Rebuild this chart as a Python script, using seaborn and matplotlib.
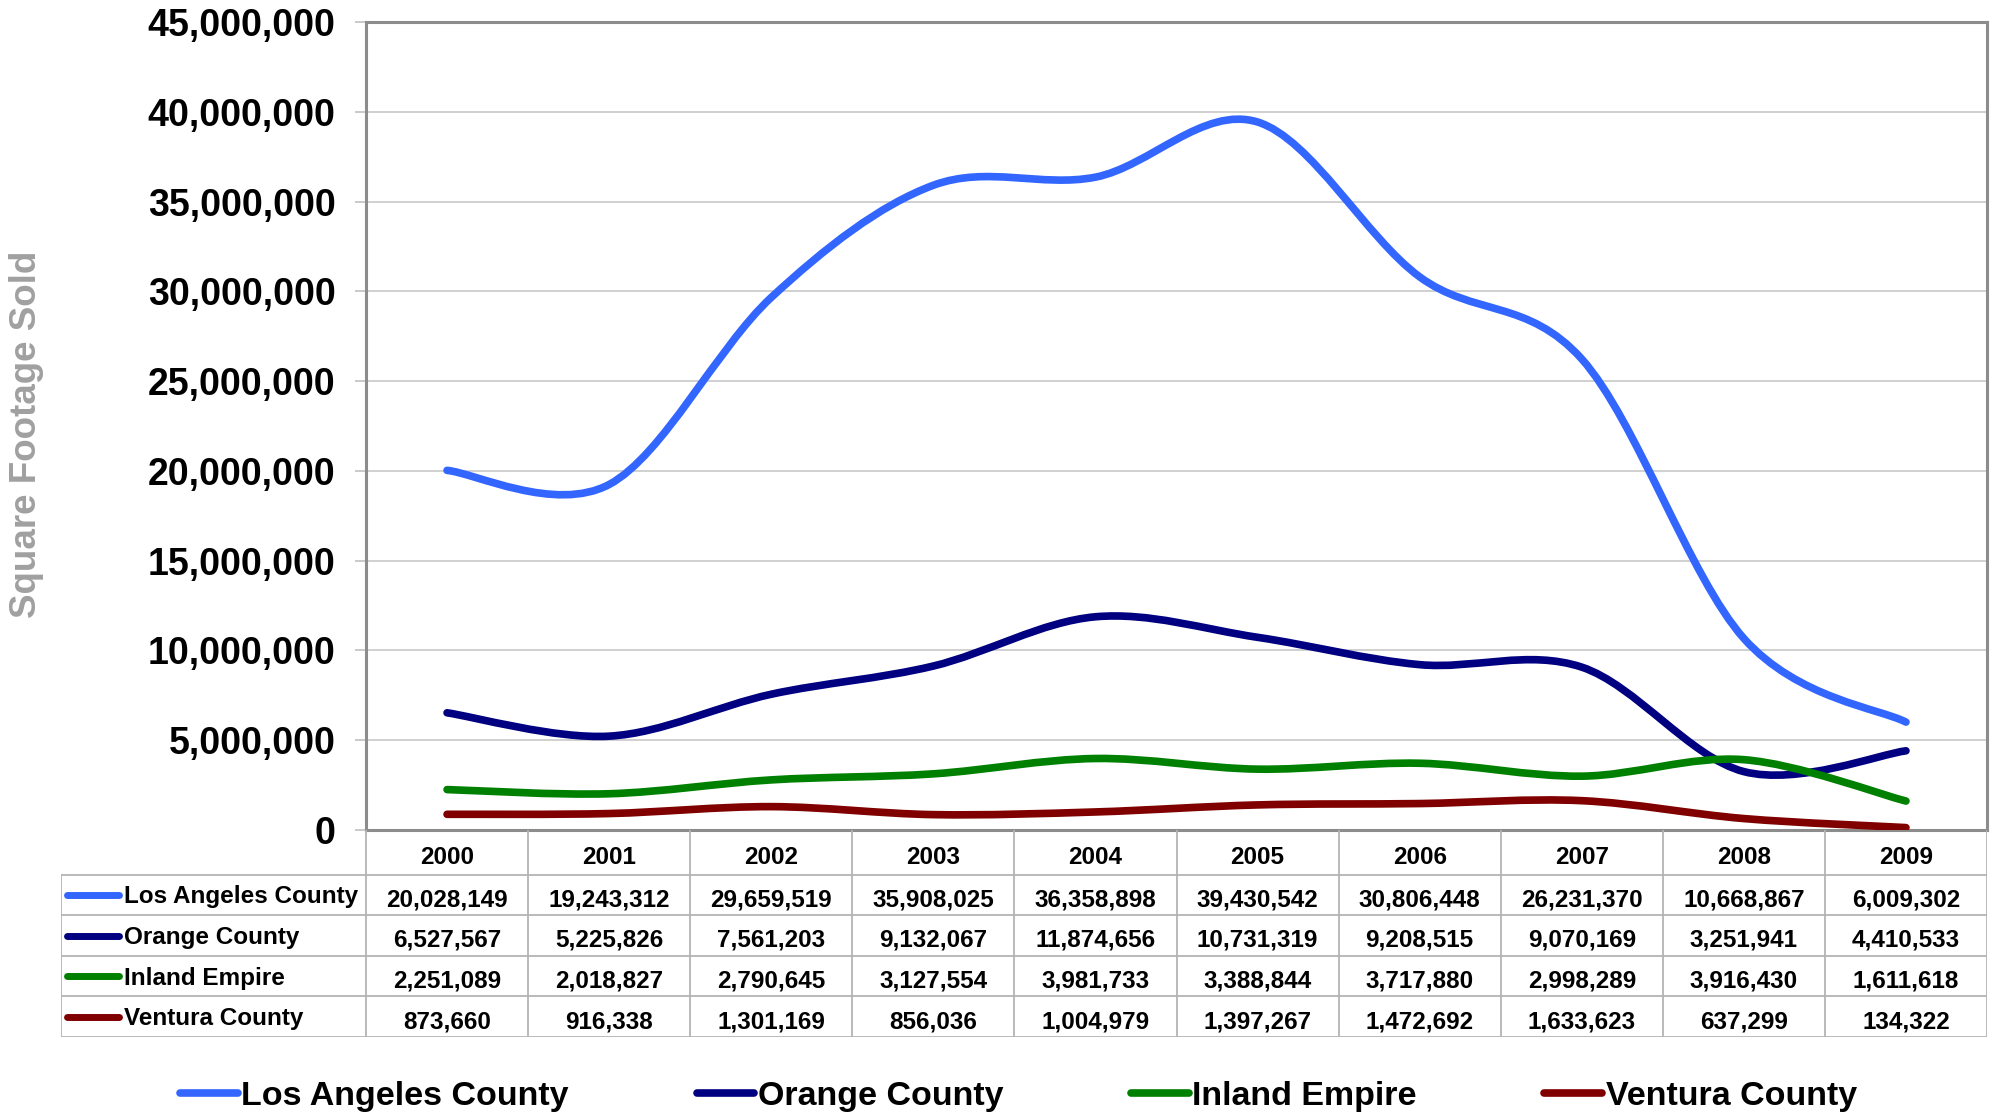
import numpy as np
import pandas as pd
import seaborn as sns
import matplotlib.pyplot as plt
from matplotlib.path import Path
from matplotlib.patches import PathPatch
from matplotlib.lines import Line2D
from matplotlib.ticker import FuncFormatter, MultipleLocator

sns.set_style("white")
plt.rcParams['font.family'] = ['Liberation Sans', 'DejaVu Sans']
plt.rcParams['font.weight'] = 'bold'
plt.rcParams['text.color'] = 'black'
plt.rcParams['ytick.labelcolor'] = 'black'

years = ['2000', '2001', '2002', '2003', '2004', '2005', '2006', '2007', '2008', '2009']
regions = ['Los Angeles County', 'Orange County', 'Inland Empire', 'Ventura County']
los_angeles = [20028149, 19243312, 29659519, 35908025, 36358898, 39430542, 30806448, 26231370, 10668867, 6009302]
orange = [6527567, 5225826, 7561203, 9132067, 11874656, 10731319, 9208515, 9070169, 3251941, 4410533]
inland = [2251089, 2018827, 2790645, 3127554, 3981733, 3388844, 3717880, 2998289, 3916430, 1611618]
ventura = [873660, 916338, 1301169, 856036, 1004979, 1397267, 1472692, 1633623, 637299, 134322]
colors = ['#3366FF', '#000080', '#008000', '#800000']

df = pd.DataFrame({'Year': years, 'Los Angeles County': los_angeles, 'Orange County': orange,
                   'Inland Empire': inland, 'Ventura County': ventura})


def smooth_path(xs, ys):
    # Excel style smoothed line: cubic bezier through each point (Catmull-Rom control points)
    pts = np.column_stack([xs, ys]).astype(float)
    n = len(pts)
    verts = [pts[0]]
    codes = [Path.MOVETO]
    for i in range(n - 1):
        p0 = pts[max(i - 1, 0)]
        p1 = pts[i]
        p2 = pts[i + 1]
        p3 = pts[min(i + 2, n - 1)]
        c1 = p1 + (p2 - p0) / 6.0
        c2 = p2 - (p3 - p1) / 6.0
        verts += [c1, c2, p2]
        codes += [Path.CURVE4] * 3
    return Path(verts, codes)


W, H = 1995, 1114
fig = plt.figure(figsize=(W / 100, H / 100), dpi=100)
L, R, T, B = 366, 1987, 22, 830
ax = fig.add_axes([L / W, 1 - B / H, (R - L) / W, (B - T) / H])

xs = np.arange(len(years))
for name, col in zip(regions, colors):
    p = smooth_path(xs, df[name].values)
    ax.add_patch(PathPatch(p, facecolor='none', edgecolor=col, lw=5.5,
                           capstyle='round', joinstyle='round', zorder=3))

ax.set_xlim(-0.5, len(years) - 0.5)
ax.set_ylim(0, 45000000)
ax.yaxis.set_major_locator(MultipleLocator(5000000))
ax.yaxis.set_major_formatter(FuncFormatter(lambda v, _: f'{v:,.0f}'))
ax.set_xticks([])
ax.grid(axis='y', color='#C8C8C8', lw=1.2)
ax.set_axisbelow(True)
for s in ax.spines.values():
    s.set_color('#8C8C8C')
    s.set_linewidth(2.2)
ax.tick_params(axis='y', left=True, length=8, width=1.2, color='#C0C0C0',
               labelsize=27, pad=14, labelcolor='black')
for t in ax.get_yticklabels():
    t.set_fontweight('bold')

fig.text(27 / W, 1 - 434 / H, 'Square Footage Sold', rotation=90, ha='center', va='center',
         fontsize=26.5, fontweight='bold', color='#A0A0A0')

# data table under the plot
TL, TB = 61, 1037
tab = fig.add_axes([TL / W, 1 - TB / H, (R - TL) / W, (TB - B) / H])
unit = (R - L) / len(years)
x0 = -0.5 - (L - TL) / unit
tab.set_xlim(x0, len(years) - 0.5)
tab.set_ylim(5, -0.1)
tab.axis('off')
gc = '#B4B4B4'
for k in range(len(years) + 1):
    tab.plot([k - 0.5, k - 0.5], [-0.1, 5], color=gc, lw=1.3)
tab.plot([x0, x0], [1, 5], color=gc, lw=1.3)
for r in range(1, 6):
    tab.plot([x0, len(years) - 0.5], [r, r], color=gc, lw=1.3)
for k, yr in enumerate(years):
    tab.text(k, 0.57, yr, ha='center', va='center', fontsize=17.5, fontweight='bold')
for r, (name, col) in enumerate(zip(regions, colors), start=1):
    tab.plot([x0 + 0.04, x0 + 0.36], [r + 0.5, r + 0.5], color=col, lw=5, solid_capstyle='round')
    tab.text(x0 + 0.39, r + 0.55, name, ha='left', va='center', fontsize=17.5, fontweight='bold')
    for k, v in enumerate(df[name].values):
        tab.text(k, r + 0.62, f'{v:,}', ha='center', va='center', fontsize=17.5, fontweight='bold')

handles = [Line2D([], [], color=c, lw=5.5, solid_capstyle='round') for c in colors]
leg = fig.legend(handles, regions, loc='center', bbox_to_anchor=(0.5105, 1 - 1096 / H), ncol=4,
                 frameon=False, fontsize=24.5, handlelength=1.7, handletextpad=0.1,
                 columnspacing=3.75)
for t in leg.get_texts():
    t.set_fontweight('bold')
    t.set_color('black')

fig.savefig('out.png', dpi=100)
